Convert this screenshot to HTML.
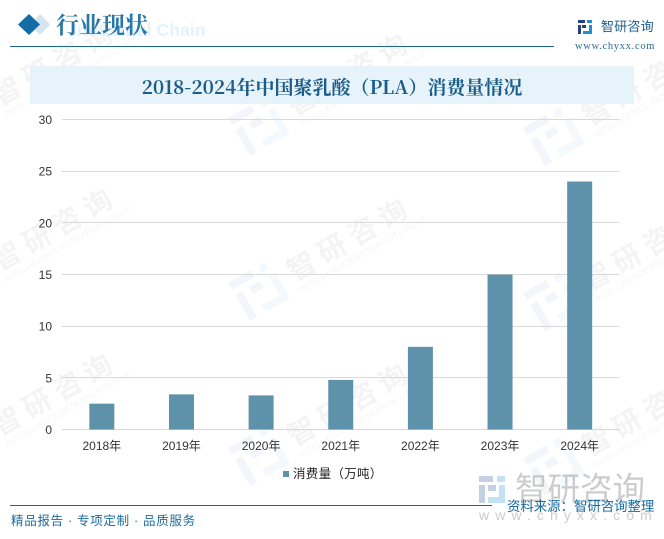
<!DOCTYPE html>
<html lang="zh-CN">
<head>
<meta charset="utf-8">
<title>2018-2024年中国聚乳酸（PLA）消费量情况</title>
<style>
html,body{margin:0;padding:0;background:#fff;}
body{width:664px;height:539px;overflow:hidden;}
svg{display:block;}
text{font-family:"Liberation Sans","WenQuanYi Zen Hei","Noto Sans CJK SC",sans-serif;}
.serif{font-family:"Liberation Serif","Noto Serif CJK SC",serif;}
.cjkserif{font-family:"Noto Serif CJK SC",serif;}
.cjksans{font-family:"Noto Sans CJK SC",sans-serif;}
</style>
</head>
<body>
<svg id="page" xmlns="http://www.w3.org/2000/svg" width="664" height="539" viewBox="0 0 664 539">
  <g id="watermarks"></g>

  <text x="72" y="36" font-size="17.700" font-weight="bold" fill="#e4f2fb">Industrial Chain</text>
  <polygon points="40,14 50,24.500 40,35 30,24.500" fill="#d3e5f0"/>
  <polygon points="29,14 40,24.500 29,35 18,24.500" fill="#136ca6"/>
  <text class="serif" x="56" y="33" font-size="23" font-weight="bold" fill="#2a77a8">行业现状</text>
  <rect x="10" y="46" width="544" height="1" fill="#1a6496"/>

  <g>
    <rect x="578" y="20" width="7" height="3" fill="#26417f"/>
    <rect x="578" y="25" width="3" height="9" fill="#26417f"/>
    <rect x="582" y="25" width="4" height="3" fill="#26417f"/>
    <rect x="587" y="20" width="5" height="3" fill="#1f8fd6"/>
    <rect x="589" y="25" width="3" height="9" fill="#1f8fd6"/>
    <rect x="583" y="31" width="7" height="3" fill="#1f8fd6"/>
  </g>
  <text x="601" y="31" font-size="13" fill="#1c5e8c" letter-spacing="0.200">智研咨询</text>
  <text class="serif" x="575" y="49" font-size="10.500" fill="#2a6d9c" letter-spacing="0.700">www.chyxx.com</text>

  <rect x="30" y="66" width="604" height="38" fill="#e6f3fb"/>
  <text class="cjkserif" x="332" y="94" font-size="19" font-weight="bold" fill="#1b5c88" text-anchor="middle">2018-2024年中国聚乳酸（PLA）消费量情况</text>

  <g id="grid"></g>
  <g id="bars"></g>
  <g id="yticks"></g>
  <g id="xticks"></g>

  <g>
    <rect id="legend-swatch" x="283" y="471" width="6" height="6" fill="#5e91aa"/>
    <text class="cjksans" x="293" y="478" font-size="12.500" letter-spacing="0.300" fill="#222">消费量（万吨）</text>
  </g>

  <g opacity="0.5">
    <rect x="479" y="476" width="14" height="6" fill="#8fa3c8"/>
    <rect x="479" y="485" width="6" height="18" fill="#8fa3c8"/>
    <rect x="488" y="485" width="8" height="6" fill="#8fa3c8"/>
    <rect x="497" y="476" width="8" height="6" fill="#8cc4ea"/>
    <rect x="499" y="485" width="6" height="18" fill="#8cc4ea"/>
    <rect x="488" y="497" width="14" height="6" fill="#8cc4ea"/>
    <text x="515" y="500" font-size="32.500" fill="#9a9a9a">智研咨询</text>
    <text x="479" y="520" font-size="14" fill="#999" letter-spacing="6.100">www.chyxx.com</text>
  </g>

  <rect x="10" y="505" width="482" height="1" fill="#1c6491"/>
  <text x="507" y="511" font-size="13.400" fill="#136a9f">资料来源：智研咨询整理</text>
  <text x="11" y="525" font-size="12.500" fill="#1c6b9d" letter-spacing="0.700">精品报告 · 专项定制 · 品质服务</text>
</svg>
<script>
var categories = ['2018年','2019年','2020年','2021年','2022年','2023年','2024年'];
var consumption = [2.5, 3.4, 3.3, 4.8, 8, 15, 24];
var yTickValues = [0, 5, 10, 15, 20, 25, 30];

var NS = 'http://www.w3.org/2000/svg';
var plotLeft = 62, plotRight = 619.5, plotBottom = 429.5, plotTop = 119.5, yMax = 30, barWidth = 25;

function yScale(v) { return plotBottom - (v / yMax) * (plotBottom - plotTop); }
function xCenter(i) { return plotLeft + (plotRight - plotLeft) * (i + 0.5) / categories.length; }

var grid = document.getElementById('grid');
var yticks = document.getElementById('yticks');
var xticks = document.getElementById('xticks');
var bars = document.getElementById('bars');

yTickValues.forEach(function (v) {
  var line = document.createElementNS(NS, 'rect');
  
  
  line.setAttribute('x', plotLeft);
  line.setAttribute('y', Math.floor(yScale(v)));
  line.setAttribute('width', plotRight - plotLeft);
  line.setAttribute('height', 1);
  line.setAttribute('fill', '#d9d9d9');
  grid.appendChild(line);

  var label = document.createElementNS(NS, 'text');
  
  
  label.setAttribute('x', 52);
  label.setAttribute('y', yScale(v) + 4.5);
  label.setAttribute('font-size', '12');
  label.setAttribute('fill', '#333');
  label.setAttribute('text-anchor', 'end');
  label.textContent = v;
  yticks.appendChild(label);
});

categories.forEach(function (c, i) {
  var top = yScale(consumption[i]);
  var bar = document.createElementNS(NS, 'rect');
  
  
  bar.setAttribute('x', xCenter(i) - barWidth / 2);
  bar.setAttribute('y', top);
  bar.setAttribute('width', barWidth);
  bar.setAttribute('height', plotBottom - top);
  bar.setAttribute('fill', '#5e91aa');
  bars.appendChild(bar);

  var label = document.createElementNS(NS, 'text');
  
  
  label.setAttribute('x', xCenter(i));
  label.setAttribute('y', 450);
  label.setAttribute('font-size', '12');
  label.setAttribute('fill', '#333');
  label.setAttribute('text-anchor', 'middle');
  label.textContent = c;
  xticks.appendChild(label);
});

// Background watermark tiles
var wmLayer = document.getElementById('watermarks');
var wmOrigins = [[-35,115],[-35,280],[-35,445],[260,125],[260,290],[260,455],[555,135],[555,300],[555,465]];
wmOrigins.forEach(function (o) {
  var g = document.createElementNS(NS, 'g');
  
  
  g.setAttribute('transform', 'translate(' + o[0] + ' ' + o[1] + ') rotate(-30)');
  g.setAttribute('opacity', '0.06');
  var shapes = [[-24,-22,26,8,'#3c6ea8'],[-24,-8,8,30,'#3c6ea8'],[-8,-8,12,8,'#3c6ea8'],[10,-22,8,8,'#4aa3dc'],[14,-8,8,30,'#4aa3dc'],[-6,14,26,8,'#4aa3dc']];
  shapes.forEach(function (s) {
    var r = document.createElementNS(NS, 'rect');
    r.setAttribute('x', s[0]);
    r.setAttribute('y', s[1]);
    r.setAttribute('width', s[2]);
    r.setAttribute('height', s[3]);
    r.setAttribute('fill', s[4]);
    g.appendChild(r);
  });
  var name = document.createElementNS(NS, 'text');
  name.setAttribute('x', 34);
  name.setAttribute('y', 10);
  name.setAttribute('font-size', '28');
  name.setAttribute('font-weight', 'bold');
  name.setAttribute('fill', '#555');
  name.setAttribute('letter-spacing', '7');
  name.textContent = '智研咨询';
  g.appendChild(name);
  var en = document.createElementNS(NS, 'text');
  en.setAttribute('x', 35);
  en.setAttribute('y', 23);
  en.setAttribute('font-size', '8.5');
  en.setAttribute('fill', '#555');
  en.textContent = 'INTELLIGENCE RESEARCH GROUP';
  g.appendChild(en);
  wmLayer.appendChild(g);
});
</script>
</body>
</html>
